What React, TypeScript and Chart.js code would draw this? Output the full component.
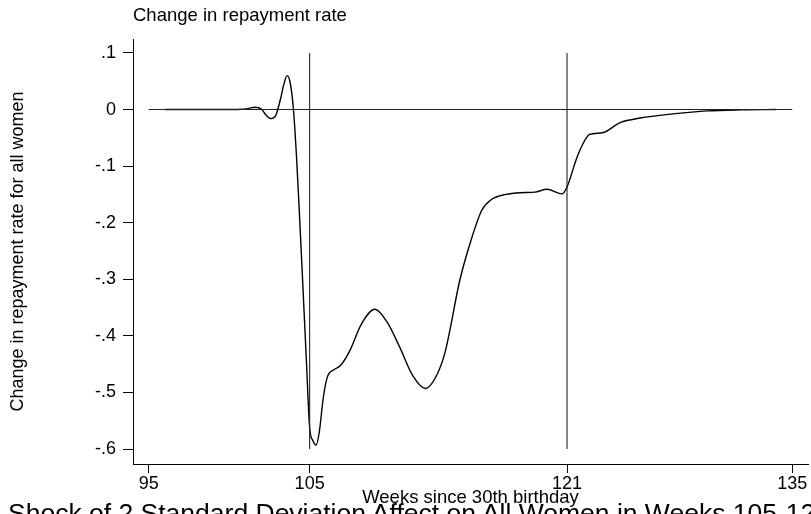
import React, { useEffect, useRef } from "react";
import { Chart, registerables } from "chart.js";

Chart.register(...registerables);

const titleText = "Change in repayment rate";
const yAxisTitle = "Change in repayment rate for all women";
const xAxisTitle = "Weeks since 30th birthday";
const captionText = "Shock of 2 Standard Deviation Affect on All Women in Weeks 105-121";

const weeks = [
  96, 97, 98, 99, 100, 100.8, 101.2, 101.6, 102.0, 102.3, 102.6, 102.9, 103.2, 103.4, 103.6, 103.77,
  103.98, 104.19, 104.4, 104.56, 104.8, 105.0, 105.2, 105.4, 105.6, 105.85, 106.1, 106.5, 106.9,
  107.5, 108.2, 109.06, 109.8, 110.6, 111.4, 112.2, 112.8, 113.4, 114.35, 115.0, 115.7, 116.3,
  117.2, 118.1, 119.0, 119.75, 120.7, 121.0, 121.6, 122.0, 122.4, 123.2, 124.3, 125.55, 127.6,
  129.7, 131.8, 134,
];
const effect = [
  0, 0, 0, 0, 0, 0.0005, 0.002, 0.004, 0.001, -0.01, -0.016, -0.01, 0.02, 0.045, 0.06, 0.05,
  0.005, -0.086, -0.204, -0.3, -0.445, -0.562, -0.585, -0.593, -0.57, -0.509, -0.473, -0.46, -0.453,
  -0.426, -0.38, -0.353, -0.375, -0.42, -0.47, -0.493, -0.475, -0.431, -0.3, -0.234, -0.178, -0.159,
  -0.15, -0.147, -0.146, -0.141, -0.149, -0.137, -0.086, -0.06, -0.044, -0.041, -0.023, -0.015, -0.0077,
  -0.0024, -0.0006, 0,
];

const xTickValues = [95, 105, 121, 135];
const xTickLabels = ["95", "105", "121", "135"];
const yTickValues = [0.1, 0, -0.1, -0.2, -0.3, -0.4, -0.5, -0.6];
const yTickLabels = [".1", "0", "-.1", "-.2", "-.3", "-.4", "-.5", "-.6"];

const zeroLineWeeks = [95, 135];
const markerWeeks = [105, 121];
const markerSpan = [-0.6, 0.1];

const xRange = [94.02, 135.98];
const yRange = [-0.6265, 0.1247];

const FONT = "'Liberation Sans', Arial, Helvetica, sans-serif";

export default function App() {
  const canvasRef = useRef<HTMLCanvasElement | null>(null);

  useEffect(() => {
    if (!canvasRef.current) return;
    const refLine = (pts: { x: number; y: number }[]) => ({
      data: pts,
      borderColor: "#222",
      borderWidth: 1.1,
      pointRadius: 0,
      tension: 0,
      fill: false,
    });
    const datasets: any[] = [
      refLine(zeroLineWeeks.map((w) => ({ x: w, y: 0 }))),
      ...markerWeeks.map((w) => refLine(markerSpan.map((v) => ({ x: w, y: v })))),
      {
        data: weeks.map((w, i) => ({ x: w, y: effect[i] })),
        borderColor: "#000",
        borderWidth: 1.4,
        pointRadius: 0,
        cubicInterpolationMode: "monotone",
        fill: false,
      },
    ];
    const chart = new Chart(canvasRef.current, {
      type: "line",
      data: { datasets },
      options: {
        animation: false,
        responsive: false,
        layout: { padding: { top: 39, right: 3, left: 0, bottom: 0 } },
        plugins: { legend: { display: false }, tooltip: { enabled: false }, title: { display: false } },
        scales: {
          x: {
            type: "linear",
            min: xRange[0],
            max: xRange[1],
            afterBuildTicks: (scale: any) => {
              scale.ticks = xTickValues.map((v) => ({ value: v }));
            },
            afterFit: (scale: any) => {
              scale.height = 50;
            },
            ticks: {
              autoSkip: false,
              maxRotation: 0,
              padding: 0,
              color: "#000",
              font: { family: FONT, size: 18 },
              callback: (v: any) => {
                const i = xTickValues.indexOf(Number(v));
                return i >= 0 ? xTickLabels[i] : "";
              },
            },
            grid: { drawOnChartArea: false, drawTicks: true, tickLength: 9, color: "#000" },
            border: { display: true, color: "#000", width: 1 },
            title: {
              display: true,
              text: xAxisTitle,
              color: "#000",
              font: { family: FONT, size: 18.5 },
              padding: { top: 0, bottom: 5 },
            },
          },
          y: {
            type: "linear",
            min: yRange[0],
            max: yRange[1],
            afterBuildTicks: (scale: any) => {
              scale.ticks = yTickValues.map((v) => ({ value: v }));
            },
            afterFit: (scale: any) => {
              scale.width = 133;
            },
            ticks: {
              autoSkip: false,
              padding: 7,
              color: "#000",
              font: { family: FONT, size: 18 },
              callback: (v: any) => {
                const i = yTickValues.findIndex((t) => Math.abs(t - Number(v)) < 1e-9);
                return i >= 0 ? yTickLabels[i] : "";
              },
            },
            grid: { drawOnChartArea: false, drawTicks: true, tickLength: 10, color: "#000" },
            border: { display: true, color: "#000", width: 1 },
            title: {
              display: true,
              text: yAxisTitle,
              color: "#000",
              font: { family: FONT, size: 18 },
              padding: { top: 7, bottom: 0 },
            },
          },
        },
      },
    });
    return () => chart.destroy();
  }, []);

  return (
    <div
      style={{
        position: "fixed",
        left: 0,
        top: 0,
        width: 811,
        height: 514,
        overflow: "hidden",
        background: "#fff",
      }}
    >
      <canvas
        ref={canvasRef}
        width={811}
        height={514}
        style={{ position: "absolute", left: 0, top: 0, width: 811, height: 514, display: "block" }}
      />
      <div
        style={{
          position: "absolute",
          left: 133,
          top: 6,
          fontFamily: FONT,
          fontSize: 18.5,
          lineHeight: "18.5px",
          color: "#000",
          whiteSpace: "nowrap",
        }}
      >
        {titleText}
      </div>
      <div
        style={{
          position: "absolute",
          left: 8,
          top: 500,
          fontFamily: FONT,
          fontSize: 26.5,
          lineHeight: "26.5px",
          color: "#000",
          whiteSpace: "nowrap",
        }}
      >
        {captionText}
      </div>
    </div>
  );
}
